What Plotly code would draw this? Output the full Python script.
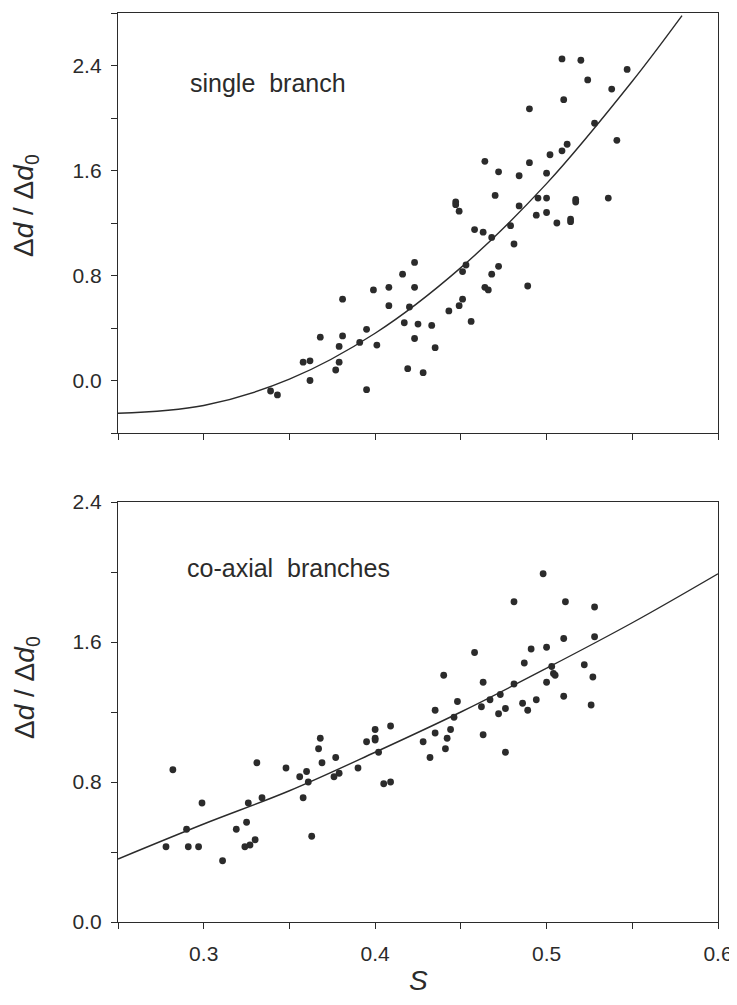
import plotly.graph_objects as go

# ---------------- data ----------------
top_S = [0.509, 0.520, 0.547, 0.524, 0.538, 0.510, 0.490, 0.528, 0.541, 0.512,
         0.509, 0.502, 0.464, 0.490, 0.472, 0.484, 0.500, 0.470, 0.495, 0.500,
         0.484, 0.517, 0.517, 0.536, 0.447, 0.447, 0.449, 0.494, 0.500, 0.514,
         0.514, 0.506, 0.458, 0.463, 0.468, 0.479, 0.481, 0.451, 0.453, 0.472,
         0.468, 0.464, 0.466, 0.489, 0.443, 0.449, 0.451, 0.456, 0.433, 0.435,
         0.428, 0.423, 0.416, 0.423, 0.408, 0.399, 0.381, 0.408, 0.420, 0.417,
         0.425, 0.395, 0.368, 0.381, 0.423, 0.379, 0.391, 0.401, 0.358, 0.362,
         0.379, 0.377, 0.419, 0.362, 0.395, 0.339, 0.343]
top_v = [2.45, 2.44, 2.37, 2.29, 2.22, 2.14, 2.07, 1.96, 1.83, 1.80,
         1.75, 1.72, 1.67, 1.66, 1.59, 1.56, 1.58, 1.41, 1.39, 1.39,
         1.33, 1.38, 1.36, 1.39, 1.36, 1.34, 1.29, 1.26, 1.28, 1.23,
         1.21, 1.20, 1.15, 1.13, 1.09, 1.18, 1.04, 0.83, 0.88, 0.87,
         0.81, 0.71, 0.69, 0.72, 0.53, 0.57, 0.62, 0.45, 0.42, 0.25,
         0.06, 0.90, 0.81, 0.71, 0.71, 0.69, 0.62, 0.57, 0.56, 0.44,
         0.43, 0.39, 0.33, 0.34, 0.32, 0.26, 0.29, 0.27, 0.14, 0.15,
         0.14, 0.08, 0.09, 0.00, -0.07, -0.08, -0.11]

top_fit_S = [0.25, 0.30, 0.35, 0.40, 0.45, 0.50, 0.55, 0.579]
top_fit_v = [-0.25, -0.19, 0.01, 0.36, 0.86, 1.50, 2.28, 2.78]

bot_S = [0.498, 0.481, 0.511, 0.528, 0.458, 0.510, 0.528, 0.491, 0.500, 0.487,
         0.503, 0.522, 0.504, 0.505, 0.527, 0.440, 0.463, 0.500, 0.481, 0.510,
         0.473, 0.467, 0.494, 0.448, 0.486, 0.462, 0.476, 0.489, 0.526, 0.435,
         0.472, 0.446, 0.444, 0.435, 0.442, 0.428, 0.463, 0.441, 0.432, 0.476,
         0.409, 0.400, 0.400, 0.400, 0.395, 0.368, 0.367, 0.402, 0.377, 0.369,
         0.331, 0.348, 0.360, 0.390, 0.379, 0.376, 0.356, 0.282, 0.361, 0.405,
         0.409, 0.334, 0.358, 0.299, 0.326, 0.325, 0.290, 0.319, 0.363, 0.278,
         0.291, 0.297, 0.324, 0.327, 0.330, 0.311]
bot_v = [1.99, 1.83, 1.83, 1.80, 1.54, 1.62, 1.63, 1.56, 1.57, 1.48,
         1.46, 1.47, 1.42, 1.41, 1.40, 1.41, 1.37, 1.37, 1.36, 1.29,
         1.30, 1.27, 1.27, 1.26, 1.25, 1.23, 1.22, 1.21, 1.24, 1.21,
         1.19, 1.17, 1.10, 1.08, 1.05, 1.03, 1.07, 0.99, 0.94, 0.97,
         1.12, 1.10, 1.05, 1.04, 1.03, 1.05, 0.99, 0.97, 0.94, 0.91,
         0.91, 0.88, 0.86, 0.88, 0.85, 0.83, 0.83, 0.87, 0.80, 0.79,
         0.80, 0.71, 0.71, 0.68, 0.68, 0.57, 0.53, 0.53, 0.49, 0.43,
         0.43, 0.43, 0.43, 0.44, 0.47, 0.35]

bot_fit_S = [0.25, 0.30, 0.35, 0.40, 0.45, 0.50, 0.55, 0.60]
bot_fit_v = [0.36, 0.56, 0.75, 0.97, 1.20, 1.45, 1.71, 1.99]

# labelled ticks every 0.1 (x) and 0.8 (y); unlabelled minor ticks every 0.05 / 0.4
x_major_step, x_minor_step = 0.1, 0.05
y_major_step, y_minor_step = 0.8, 0.4

# ---------------- layout geometry (figure pixels; page body adds 8px) ----------------
W, H = 729, 997
ML, MR, MT, MB = 110, 19, 5, 83
PW, PH = W - ML - MR, H - MT - MB


def px(xf):
    return (xf - ML) / PW


def py(yf):
    return (H - MB - yf) / PH


INK = "#2b2b2b"
FONT = "Liberation Sans, Arial, sans-serif"

fig = go.Figure()
marker = dict(size=6.8, color=INK)
line = dict(color=INK, width=1.4, shape="spline")

fig.add_trace(go.Scatter(x=top_S, y=top_v, mode="markers", marker=marker,
                         xaxis="x", yaxis="y", showlegend=False))
fig.add_trace(go.Scatter(x=top_fit_S, y=top_fit_v, mode="lines", line=line,
                         xaxis="x", yaxis="y", showlegend=False))
fig.add_trace(go.Scatter(x=bot_S, y=bot_v, mode="markers", marker=marker,
                         xaxis="x2", yaxis="y2", showlegend=False))
fig.add_trace(go.Scatter(x=bot_fit_S, y=bot_fit_v, mode="lines", line=line,
                         xaxis="x2", yaxis="y2", showlegend=False))

axis_common = dict(showline=True, mirror=True, linecolor=INK, linewidth=1.4,
                   ticks="outside", ticklen=6, tickwidth=1.2, tickcolor=INK,
                   showgrid=False, zeroline=False, automargin=False,
                   tickfont=dict(family=FONT, size=21, color=INK))


def minor(step, start):
    return dict(dtick=step, tick0=start, ticks="outside", ticklen=6,
                tickwidth=1.2, tickcolor=INK, showgrid=False)


fig.update_layout(
    width=W, height=H,
    margin=dict(l=ML, r=MR, t=MT, b=MB),
    paper_bgcolor="white", plot_bgcolor="white",
    xaxis=dict(domain=[0, 1], range=[0.25, 0.6], anchor="y",
               tick0=0.3, dtick=x_major_step, showticklabels=False,
               minor=minor(x_minor_step, 0.25), **axis_common),
    yaxis=dict(domain=[py(425), 1], range=[-0.4, 2.8], anchor="x",
               tick0=0.0, dtick=y_major_step, tickformat=".1f",
               minor=minor(y_minor_step, 0.0),
               ticklabelstandoff=5, **axis_common),
    xaxis2=dict(domain=[0, 1], range=[0.25, 0.6], anchor="y2",
                tick0=0.3, dtick=x_major_step, tickformat=".1f",
                minor=minor(x_minor_step, 0.25),
                ticklabelstandoff=7, **axis_common),
    yaxis2=dict(domain=[0, py(494)], range=[0.0, 2.4], anchor="x2",
                tick0=0.0, dtick=y_major_step, tickformat=".1f",
                minor=minor(y_minor_step, 0.0),
                ticklabelstandoff=5, **axis_common),
)

ylab = "Δ<i>d</i> / Δ<i>d</i><sub>0</sub>"
ann_font = dict(family=FONT, size=28, color=INK)
fig.add_annotation(text=ylab, textangle=-90, xref="paper", yref="paper",
                   x=px(18), y=py(198), showarrow=False,
                   font=ann_font, xanchor="center", yanchor="middle")
fig.add_annotation(text=ylab, textangle=-90, xref="paper", yref="paper",
                   x=px(18), y=py(680), showarrow=False,
                   font=ann_font, xanchor="center", yanchor="middle")
fig.add_annotation(text="<i>S</i>", xref="paper", yref="paper",
                   x=px(410), y=py(973), showarrow=False,
                   font=dict(family=FONT, size=28, color=INK),
                   xanchor="center", yanchor="middle")
fig.add_annotation(text="single\u00a0\u00a0branch", xref="paper", yref="paper",
                   x=px(180), y=py(75), showarrow=False,
                   font=dict(family=FONT, size=25, color=INK),
                   xanchor="left", yanchor="middle")
fig.add_annotation(text="co-axial\u00a0\u00a0branches", xref="paper", yref="paper",
                   x=px(177), y=py(560), showarrow=False,
                   font=dict(family=FONT, size=25, color=INK),
                   xanchor="left", yanchor="middle")

fig.write_html("out.html")
